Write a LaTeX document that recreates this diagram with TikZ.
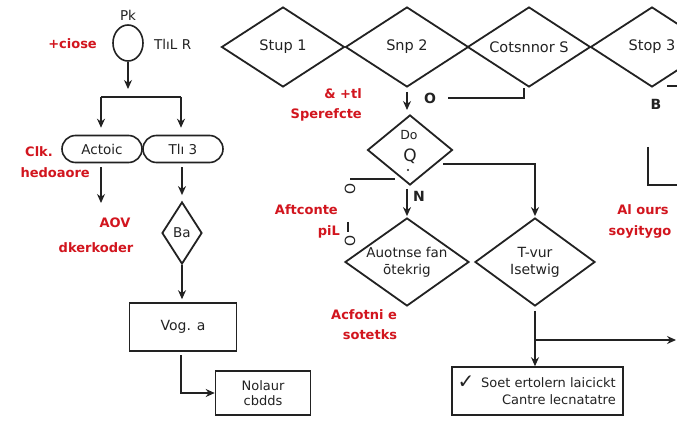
\documentclass[tikz,border=0pt]{standalone}
\usepackage{fontspec}
\setmainfont{DejaVu Sans}
\newfontfamily\symfont{DejaVu Sans}
\usetikzlibrary{shapes.geometric,arrows.meta}
\definecolor{lred}{HTML}{D2151E}
\definecolor{ink}{HTML}{222222}
\begin{document}
\begin{tikzpicture}[x=1pt,y=-1pt,
  lbl/.style={font=\fontsize{13.5}{16}\selectfont, text=ink, inner sep=1pt, align=center},
  rlbl/.style={font=\bfseries\fontsize{13}{15}\selectfont, text=lred, inner sep=1pt},
  dia/.style={draw=ink, line width=1.8pt, diamond, inner sep=0pt, font=\fontsize{14.5}{17}\selectfont, text=ink, align=center},
  box/.style={draw=ink, line width=1.6pt, rectangle, inner sep=0pt, align=center},
  rbox/.style={draw=ink, line width=1.6pt, rectangle, rounded corners=13.5pt, minimum width=80pt, minimum height=27pt, inner sep=0pt, font=\fontsize{13.5}{15}\selectfont, text=ink},
  conn/.style={draw=ink, line width=1.3pt, -{Stealth[length=9pt,width=8pt]}},
  line/.style={draw=ink, line width=1.3pt}]
\useasboundingbox (0,0) rectangle (677,438);
\fill[white] (0,0) rectangle (677,438);

% ---------- left column ----------
\node[lbl] (pk) at (128,15) {Pk};
\node[draw=ink, ellipse, line width=1.6pt, minimum width=30pt, minimum height=36pt, inner sep=0pt] (circ) at (128,43) {};
\node[rlbl, anchor=east] (close) at (98,44) {+ciose};
\node[lbl, anchor=west] (thl) at (153,44) {TlıL R};
\coordinate (split) at (128,89);
\draw[conn] (circ.south) -- (split);
\coordinate (hl) at (101,97);
\coordinate (hr) at (181,97);
\draw[line] (hl) -- (hr);

\node[rbox] (b1) at (102,149) {Actoic};
\node[rbox] (b2) at (183,149) {Tlı 3};
\draw[conn, shorten >=7pt] (hl) -- (hl |- b1.north);
\draw[conn, shorten >=7pt] (hr) -- (hr |- b2.north);

\node[rlbl, anchor=east] (clk) at (54,152) {Clk.};
\node[rlbl, anchor=east] (hed) at (91,173) {hedoaore};
\coordinate (b1end) at (101,203);
\draw[conn, shorten <=4pt] (b1.south -| b1end) -- (b1end);
\node[rlbl] (aov) at (115,223) {AOV};
\node[rlbl] (dker) at (96,248) {dkerkoder};

\node[dia, minimum width=40pt, minimum height=62pt, aspect=0.65, font=\fontsize{13.5}{16}\selectfont] (sd) at (182,233) {Ba};
\draw[conn, shorten <=4pt, shorten >=6pt] (b2.south -| sd.north) -- (sd.north);

\node[box, minimum width=107pt, minimum height=48pt, font=\fontsize{14}{17}\selectfont, text=ink] (v1) at (183,327) {Vog. a};
\draw[conn, shorten >=3pt] (sd.south) -- (sd.south |- v1.north);

\node[box, minimum width=95pt, minimum height=44pt, font=\fontsize{13}{15}\selectfont, text=ink] (n1) at (263,393) {Nolaur\\cbdds};
\coordinate (v1b) at (181,355);
\draw[conn] (v1b) |- (n1.west);

% ---------- top diamonds ----------
\node[dia, minimum width=123pt, minimum height=80pt, aspect=1.54] (d1) at (283,47) {Stup 1};
\node[dia, minimum width=123pt, minimum height=80pt, aspect=1.54] (d2) at (407,47) {Snp 2};
\node[dia, minimum width=123pt, minimum height=80pt, aspect=1.54] (d3) at (529,47) {Cotsnnor S};
\node[dia, minimum width=123pt, minimum height=80pt, aspect=1.54] (d4) at (652,47) {Stop 3};

\coordinate (d2end) at (407,110);
\draw[conn, shorten <=4pt] (d2.south) -- (d2end);
\node[lbl, font=\bfseries\fontsize{14}{16}\selectfont] (o1) at (430,98) {O};
\coordinate (o1r) at (448,98);
\coordinate (c3) at (524,88);
\draw[line] (o1r) -| (c3);
\node[rlbl, anchor=east] (amp) at (363,94) {\& +tl};
\node[rlbl, anchor=east] (spr) at (363,115) {Sperefcte};

\node[lbl, font=\bfseries\fontsize{14}{16}\selectfont] (bb) at (656,104) {B};
\coordinate (bl1) at (667,86);
\coordinate (bl2) at (677,86);
\draw[line] (bl1) -- (bl2);
\coordinate (br1) at (648,147);
\coordinate (br2) at (677,185);
\draw[line] (br1) |- (br2);

% ---------- Do Q diamond ----------
\node[dia, minimum width=85pt, minimum height=70pt, aspect=1.2] (dq) at (410,150) {};
\node[lbl, font=\fontsize{12.5}{14}\selectfont] (dot) at (409,135) {Do};
\node[lbl, font=\fontsize{17}{17}\selectfont, inner sep=0pt] (qq) at (410,156) {Q};
\fill[ink] (408,170) circle (1.2pt);
\coordinate (dqr) at (443,164);
\node[rlbl, anchor=east] (aft) at (339,210) {Aftconte};
\node[rlbl, anchor=east] (pil) at (341,232) {piL};

\coordinate (ll1) at (350,179);
\coordinate (ll2) at (395,179);
\draw[line] (ll1) -- (ll2);
\node[lbl, rotate=90, font=\fontsize{14}{14}\selectfont, inner sep=0pt] (o2) at (350,189) {O};
\coordinate (vl1) at (348,222);
\coordinate (vl2) at (348,232);
\draw[line] (vl1) -- (vl2);
\node[lbl, rotate=90, font=\fontsize{14}{14}\selectfont, inner sep=0pt] (o3) at (350,241) {O};
\node[lbl, font=\bfseries\fontsize{14}{16}\selectfont] (nn) at (419,196) {N};

\node[dia, minimum width=124pt, minimum height=88pt, aspect=1.4, font=\fontsize{13.5}{17}\selectfont] (ad1) at (407,262) {Auotnse fan\\ōtekrig};
\node[dia, minimum width=120pt, minimum height=88pt, aspect=1.36, font=\fontsize{14}{17}\selectfont] (ad2) at (535,262) {T-vur\\Isetwig};

\draw[conn, shorten <=3pt, shorten >=1pt] (dq.south -| ad1.north) -- (ad1.north);
\draw[conn, shorten >=1pt] (dqr) -| (ad2.north);

\node[rlbl] (acf) at (364,315) {Acfotni e};
\node[rlbl] (sot) at (370,335) {sotetks};
\node[rlbl] (alo) at (643,210) {Al ours};
\node[rlbl] (soy) at (640,232) {soyitygo};

% ---------- bottom right ----------
\node[box, minimum width=171pt, minimum height=48pt, text=ink] (fr) at (537.5,391) {};
\node[font=\fontsize{13}{17}\selectfont, text=ink, align=right, anchor=east, inner sep=0pt] (frt) at (616,391) {Soet ertolern laicickt\\Cantre lecnatatre};
\node[font=\symfont\fontsize{20}{20}\selectfont, text=ink] (chk) at (466,382) {✓};
\coordinate (brk) at (535,340);
\coordinate (rend) at (676,340);
\draw[conn, shorten <=4pt] (ad2.south) -- (ad2.south |- fr.north);
\draw[conn] (brk) -- (rend);
\end{tikzpicture}
\end{document}
